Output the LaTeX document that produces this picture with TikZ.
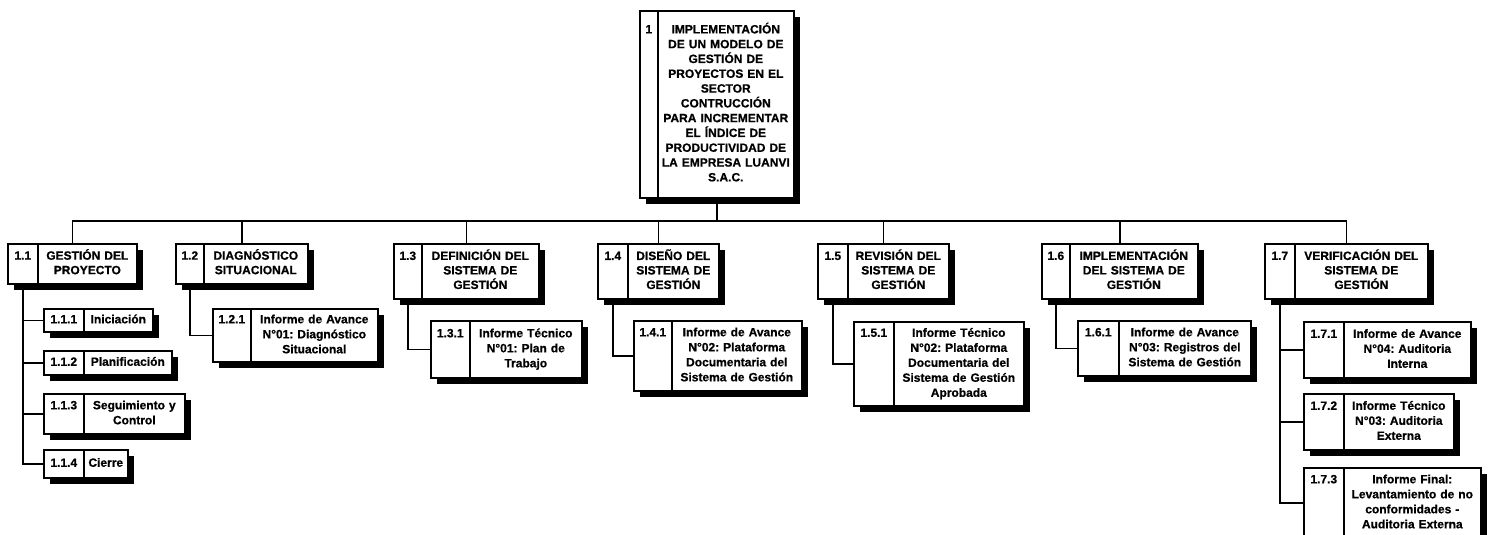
\documentclass[tikz,border=0pt]{standalone}
\usepackage{fontspec}
\setmainfont{Liberation Sans}[BoldFeatures={FakeBold=0.7}]
\usetikzlibrary{shadows,calc}
\tikzset{
  cell/.style={draw, line width=1.6pt, fill=white, inner sep=0pt,
    drop shadow={shadow xshift=6pt, shadow yshift=-6pt, opacity=1, fill=black}},
  txt/.style={align=center, execute at begin node=\strut, execute at end node=\strut},
  numlbl/.style={inner sep=0pt},
  lvA/.style={font=\bfseries\frenchspacing\fontsize{12}{14.8}\selectfont},
  lvB/.style={font=\bfseries\frenchspacing\fontsize{12}{14.5}\selectfont},
  lvC/.style={font=\bfseries\frenchspacing\fontsize{12}{15}\selectfont},
  conn/.style={line width=1.5pt}
}
% name, x1, y1, xdiv, x2, y2, number, text, level style
\newcommand\wbsbox[9]{%
  \pgfmathsetmacro\wbsnw{#4-#2}%
  \pgfmathsetmacro\wbstw{#5-#4}%
  \pgfmathsetmacro\wbsh{#6-#3}%
  \pgfmathsetmacro\wbstxw{#5-#4-6}%
  \node[cell, anchor=north west, minimum width=\wbsnw pt, minimum height=\wbsh pt] (#1n) at (#2,#3) {};
  \node[cell, txt, #9, anchor=north west, minimum width=\wbstw pt, minimum height=\wbsh pt, text width=\wbstxw pt] (#1) at (#4,#3) {#8};
  \node[numlbl, #9, anchor=base] (#1num) at (#1n.center |- #1.base) {#7};
}
\begin{document}
\begin{tikzpicture}[x=1pt, y=-1pt]
\useasboundingbox (0,0) rectangle (1489,535);
\clip (0,0) rectangle (1489,535);

% root
\wbsbox{r}{639}{10}{657}{793}{197}{1}{IMPLEMENTACIÓN\\DE UN MODELO DE\\GESTIÓN DE\\PROYECTOS EN EL\\SECTOR\\CONTRUCCIÓN\\PARA INCREMENTAR\\EL ÍNDICE DE\\PRODUCTIVIDAD DE\\LA EMPRESA LUANVI\\S.A.C.}{lvA}

% level 1
\wbsbox{a}{7}{243}{37}{136}{283}{1.1}{GESTIÓN DEL\\PROYECTO}{lvB}
\wbsbox{b}{175}{243}{203}{307}{283}{1.2}{DIAGNÓSTICO\\SITUACIONAL}{lvB}
\wbsbox{c}{393}{243}{421}{538}{298}{1.3}{DEFINICIÓN DEL\\SISTEMA DE\\GESTIÓN}{lvB}
\wbsbox{d}{597}{243}{627}{718}{298}{1.4}{DISEÑO DEL\\SISTEMA DE\\GESTIÓN}{lvB}
\wbsbox{e}{817}{243}{847}{948}{298}{1.5}{REVISIÓN DEL\\SISTEMA DE\\GESTIÓN}{lvB}
\wbsbox{f}{1041}{243}{1069}{1197}{298}{1.6}{IMPLEMENTACIÓN\\DEL SISTEMA DE\\GESTIÓN}{lvB}
\wbsbox{g}{1264}{243}{1294}{1427}{298}{1.7}{VERIFICACIÓN DEL\\SISTEMA DE\\GESTIÓN}{lvB}

% level 2
\wbsbox{aa}{43}{308}{83}{152}{331}{1.1.1}{Iniciación}{lvC}
\wbsbox{ab}{43}{350}{83}{171}{374}{1.1.2}{Planificación}{lvC}
\wbsbox{ac}{43}{393}{83}{184}{433}{1.1.3}{Seguimiento y\\Control}{lvC}
\wbsbox{ad}{43}{449}{83}{127}{477}{1.1.4}{Cierre}{lvC}
\wbsbox{ba}{212}{308}{250}{377}{361}{1.2.1}{Informe de Avance\\N°01: Diagnóstico\\Situacional}{lvC}
\wbsbox{ca}{430}{320}{469}{581}{377}{1.3.1}{Informe Técnico\\N°01: Plan de\\Trabajo}{lvC}
\wbsbox{da}{633}{320}{671}{801}{390}{1.4.1}{Informe de Avance\\N°02: Plataforma\\Documentaria del\\Sistema de Gestión}{lvC}
\wbsbox{ea}{853}{321}{893}{1023}{405}{1.5.1}{Informe Técnico\\N°02: Plataforma\\Documentaria del\\Sistema de Gestión\\Aprobada}{lvC}
\wbsbox{fa}{1077}{320}{1118}{1250}{375}{1.6.1}{Informe de Avance\\N°03: Registros del\\Sistema de Gestión}{lvC}
\wbsbox{ga}{1303}{321}{1343}{1470}{377}{1.7.1}{Informe de Avance\\N°04: Auditoria\\Interna}{lvC}
\wbsbox{gb}{1303}{393}{1343}{1453}{449}{1.7.2}{Informe Técnico\\N°03: Auditoria\\Externa}{lvC}
\wbsbox{gc}{1303}{467}{1343}{1480}{537}{1.7.3}{Informe Final:\\Levantamiento de no\\conformidades -\\Auditoria Externa}{lvC}

% connectors
\coordinate (bus) at (0,221);
\coordinate (rb) at ($(rn.south west)!.5!(r.south east)$);
\foreach \k in {a,b,c,d,e,f,g}{
  \coordinate (t\k) at ($(\k n.north west)!.5!(\k.north east)$);
}
\draw[conn] (rb) -- (rb |- bus);
\draw[conn] (ta) |- (bus -| tg) -- (tg);
\foreach \k in {b,c,d,e,f}{
  \draw[conn] (t\k) -- (t\k |- bus);
}
\foreach \p/\c in {a/aa,a/ab,a/ac,a/ad,b/ba,c/ca,d/da,e/ea,f/fa,g/ga,g/gb,g/gc}{
  \draw[conn] (\p n.south) |- (\c n.west);
}
\end{tikzpicture}
\end{document}
